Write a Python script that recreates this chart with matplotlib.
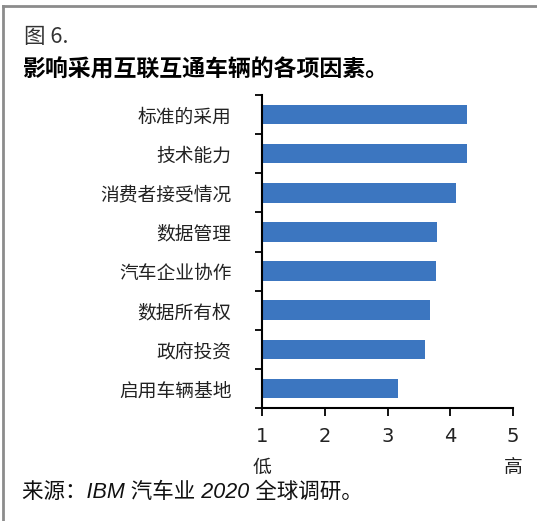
import matplotlib
matplotlib.use("Agg")
import matplotlib.pyplot as plt
from matplotlib.ticker import FixedLocator

plt.rcParams['font.family'] = ['Noto Sans CJK SC', 'DejaVu Sans']

factors = ['标准的采用', '技术能力', '消费者接受情况', '数据管理',
           '汽车企业协作', '数据所有权', '政府投资', '启用车辆基地']
scores = [4.26, 4.26, 4.09, 3.79, 3.78, 3.68, 3.60, 3.16]
x_ticks = [1, 2, 3, 4, 5]

W, H = 537, 521
fig = plt.figure(figsize=(W / 100, H / 100), dpi=100)

# gray frame along the top and left edge
fig.add_artist(plt.Line2D([3 / W, 1], [1 - 6 / H, 1 - 6 / H], color='#8c8c8c', lw=2))
fig.add_artist(plt.Line2D([3 / W, 3 / W], [0, 1 - 6 / H], color='#8c8c8c', lw=2))

fig.text(24 / W, 1 - 37 / H, '图 6.', fontsize=15.5, color='#333333', va='center')
fig.text(22 / W, 1 - 70 / H, '影响采用互联互通车辆的各项因素。', fontsize=16.5,
         fontweight='bold', color='black', va='center')

ax = fig.add_axes([262 / W, 1 - 408 / H, (513 - 262) / W, (408 - 95) / H])

n = len(factors)
ypos = [n - 0.5 - i for i in range(n)]
ax.barh(ypos, [s - 1 for s in scores], left=1, height=0.5, color='#3c76c0')

ax.set_xlim(1, 5)
ax.set_ylim(0, n)
ax.set_xticks(x_ticks)
ax.set_xticklabels([str(t) for t in x_ticks], fontsize=14,
                   family=['Liberation Sans Narrow', 'DejaVu Sans'], color='#222222')
ax.set_yticks(ypos)
ax.set_yticklabels(factors, fontsize=13.5, color='#222222')
ax.yaxis.set_minor_locator(FixedLocator(range(n + 1)))
ax.tick_params(axis='y', which='major', length=0, pad=22)
ax.tick_params(axis='y', which='minor', length=5, width=1.3, direction='out')
ax.tick_params(axis='x', length=6, width=1.3, direction='out', pad=8)

for side in ['top', 'right']:
    ax.spines[side].set_visible(False)
for side in ['left', 'bottom']:
    ax.spines[side].set_linewidth(1.5)

fig.text(262 / W, 1 - 467 / H, '低', fontsize=13.5, color='#222222', ha='center', va='center')
fig.text(513 / W, 1 - 467 / H, '高', fontsize=13.5, color='#222222', ha='center', va='center')

fig.text(22 / W, 1 - 492 / H, '来源：IBM 汽车业 2020 全球调研。', fontsize=15.5,
         style='italic', family=['Liberation Sans', 'Noto Sans CJK SC'],
         color='#111111', va='center')

fig.savefig('out.png', dpi=100)
